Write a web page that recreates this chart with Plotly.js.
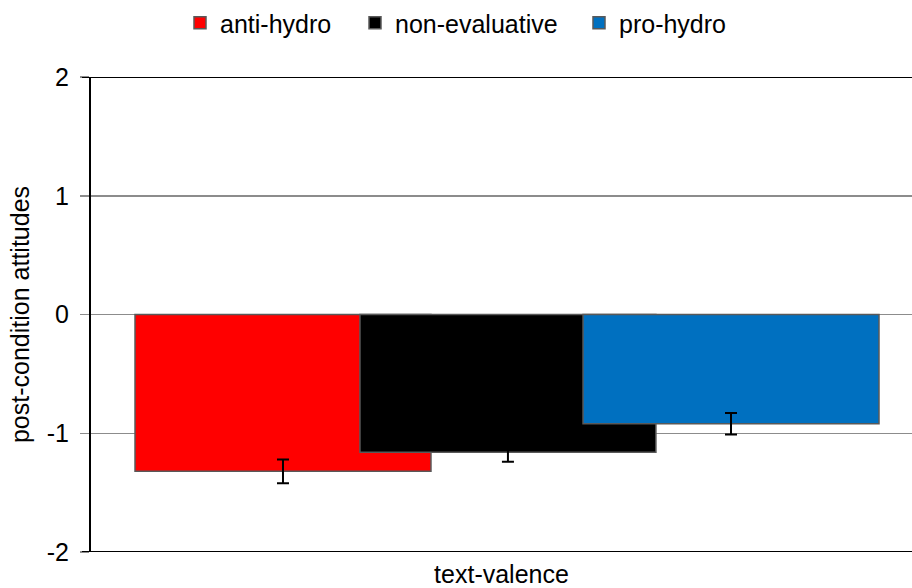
<!DOCTYPE html>
<html>
<head>
<meta charset="utf-8">
<script src="https://cdn.plot.ly/plotly-3.0.1.min.js"></script>
<style>
  html, body { margin: 0; padding: 0; background: #fff; }
  #chart { width: 912px; height: 588px; }
</style>
</head>
<body>
<div id="chart"></div>
<script>
// Post-condition attitudes by text valence (means with standard errors)
const category = ["text-valence"];
const seriesNames = ["anti-hydro", "non-evaluative", "pro-hydro"];
const seriesColors = ["#ff0000", "#000000", "#0070c0"];
const meanValues = [-1.32, -1.16, -0.92];
const errorValues = [0.10, 0.08, 0.09];
const yTickVals = [2, 1, 0, -1, -2];
const yTickText = ["2", "1", "0", "-1", "-2"];

// overlapping bar placement within the single category (axis units)
const barWidth = 0.3605;
const barOffsets = [-0.4464, -0.1724, 0.0993];

// each series gets its own legend box, laid out in a row above the plot
const legendIds = ["legend", "legend2", "legend3"];
const legendX = [180, 355, 579];

const FONT = "Liberation Sans, Arial, Helvetica, sans-serif";
const FONT_SIZE = 25;

const traces = seriesNames.map((name, i) => ({
  type: "bar",
  name: name,
  legend: legendIds[i],
  x: category,
  y: [meanValues[i]],
  width: barWidth,
  offset: barOffsets[i],
  marker: { color: seriesColors[i], line: { color: "#595959", width: 1.5 } },
  error_y: { type: "data", array: [errorValues[i]], visible: true,
             color: "#000000", thickness: 2, width: 6 },
  hoverinfo: "skip"
}));

// black frame lines at the top and bottom of the value range
const frameLines = [yTickVals[0], yTickVals[yTickVals.length - 1]].map(v => ({
  type: "line", xref: "paper", yref: "y",
  x0: -9 / 821, x1: 1, y0: v, y1: v,
  line: { color: "#000000", width: 2 }, layer: "above"
}));

const layout = {
  width: 912, height: 588,
  margin: { l: 91, r: 0, t: 77, b: 36 },
  paper_bgcolor: "#ffffff", plot_bgcolor: "#ffffff",
  font: { family: FONT, size: FONT_SIZE, color: "#000000" },
  barmode: "overlay",
  showlegend: true,
  xaxis: {
    range: [-0.5, 0.5], showticklabels: false, ticks: "", showgrid: false,
    zeroline: false, showline: false, fixedrange: true, automargin: false,
    title: { text: "text-valence", standoff: 13, font: { family: FONT, size: FONT_SIZE } }
  },
  yaxis: {
    range: [-2, 2], tickvals: yTickVals, ticktext: yTickText,
    ticks: "outside", ticklen: 9, tickwidth: 1.5, tickcolor: "#8c8c8c",
    showgrid: true, gridcolor: "#8c8c8c", gridwidth: 1.5,
    zeroline: false, showline: true, linecolor: "#000000", linewidth: 2,
    tickfont: { family: FONT, size: FONT_SIZE }, ticklabelstandoff: 6,
    automargin: false,
    title: { text: "post-condition attitudes", standoff: 10, font: { family: FONT, size: FONT_SIZE } },
    fixedrange: true
  },
  shapes: frameLines
};

legendIds.forEach((id, i) => {
  layout[id] = {
    xref: "container", yref: "container",
    x: legendX[i] / 912, xanchor: "left",
    y: 1 - 23 / 588, yanchor: "middle",
    orientation: "h", bgcolor: "rgba(0,0,0,0)", borderwidth: 0,
    font: { family: FONT, size: FONT_SIZE, color: "#000000" }
  };
});

Plotly.newPlot("chart", traces, layout, { displayModeBar: false, staticPlot: true });
</script>
</body>
</html>
